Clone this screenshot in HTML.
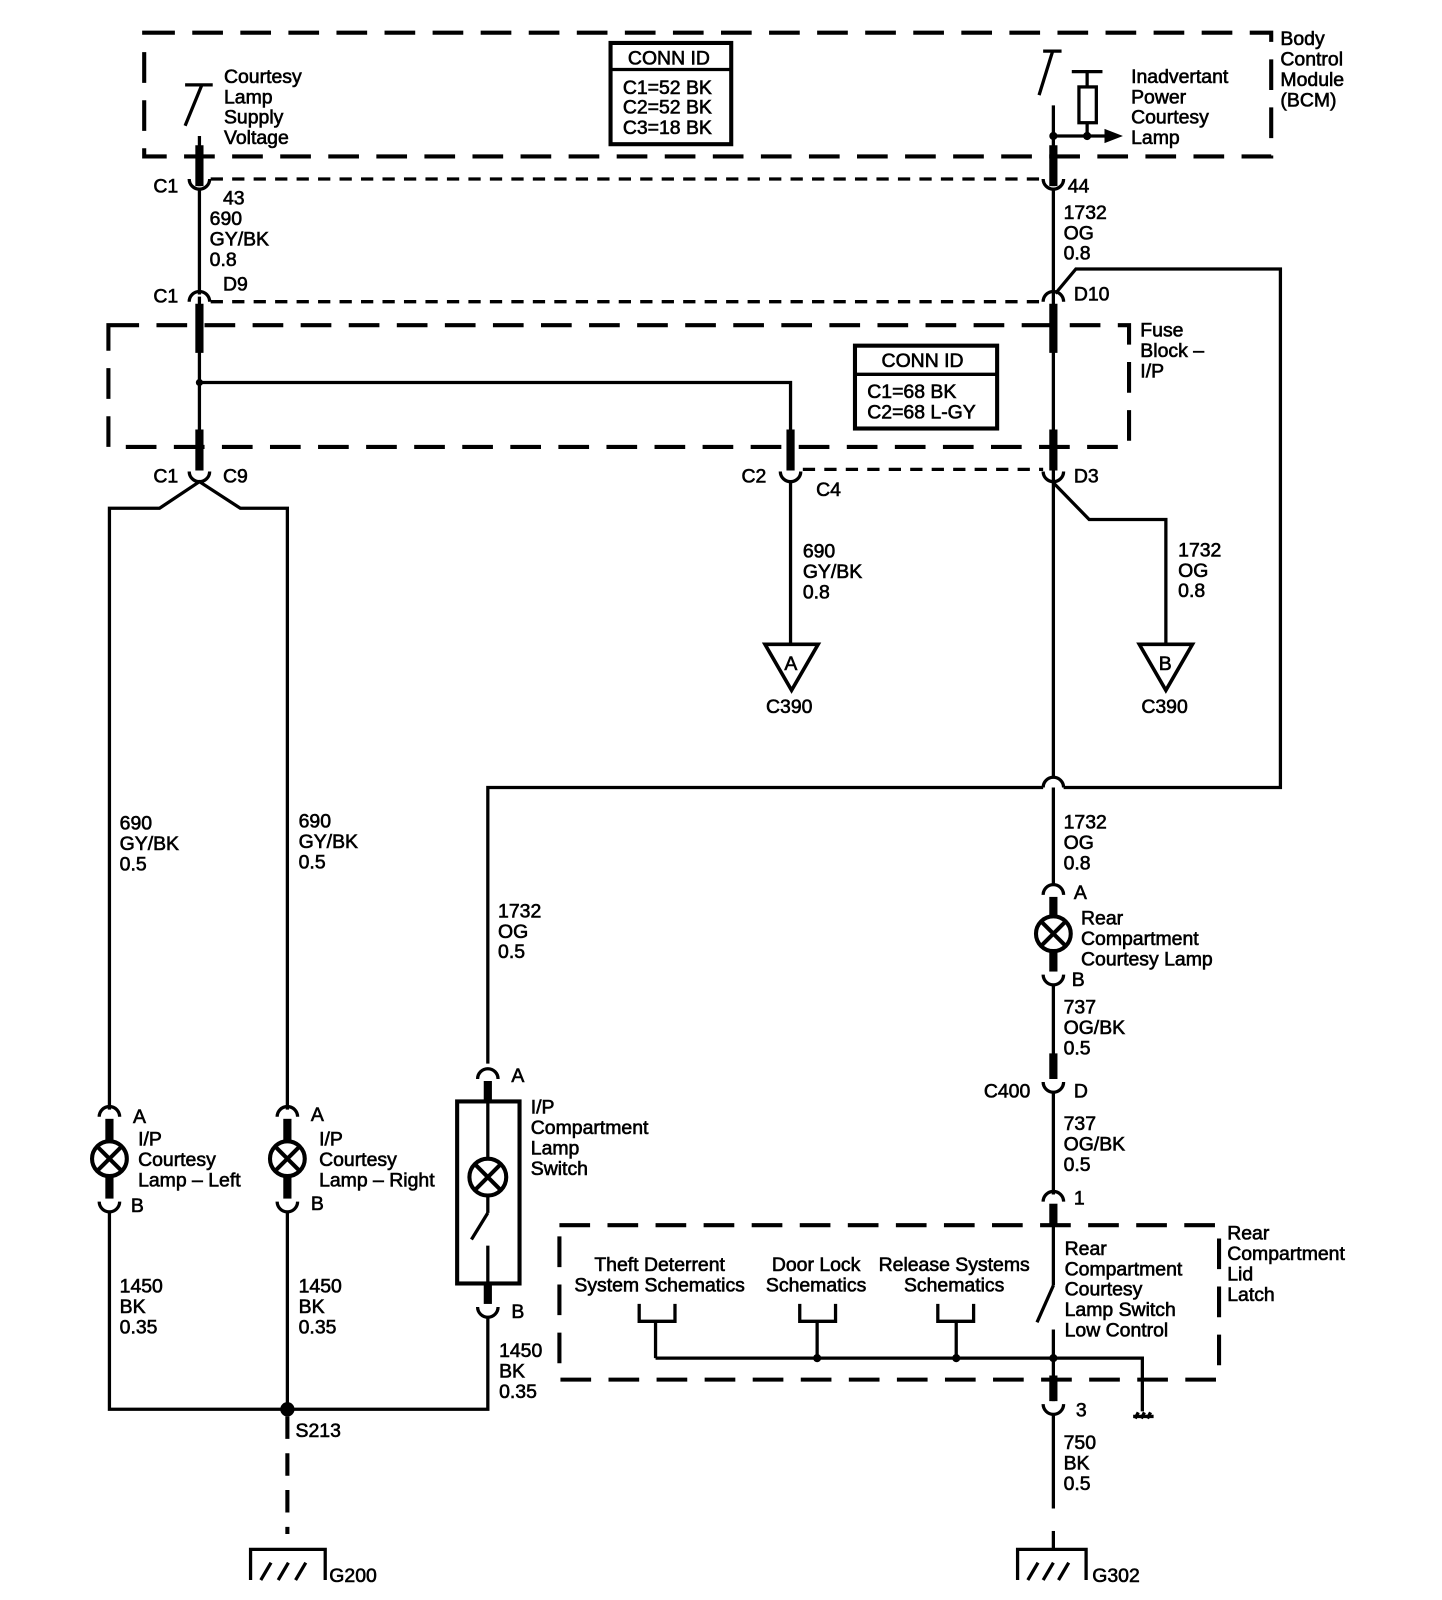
<!DOCTYPE html>
<html><head><meta charset="utf-8"><style>
html,body{margin:0;padding:0;background:#fff;}
svg{display:block;}
text{font-family:"Liberation Sans",Arial,sans-serif;font-size:19px;fill:#000;stroke:#000;stroke-width:0.6;}
</style></head><body>
<svg width="1442" height="1600" viewBox="0 0 1410 1564.5" preserveAspectRatio="none" xmlns="http://www.w3.org/2000/svg">
<g fill="none" stroke="#000" stroke-width="3.2">
<rect x="141" y="32" width="1102" height="121" stroke-width="4" stroke-dasharray="30,17"/>
<rect x="106" y="318" width="998" height="119" stroke-width="4" stroke-dasharray="30,17"/>
<rect x="547" y="1198" width="645" height="151" stroke-width="4" stroke-dasharray="30,17"/>
<line x1="206" y1="175" x2="1020" y2="175" stroke-dasharray="12,9"/>
<line x1="206" y1="295" x2="1020" y2="295" stroke-dasharray="12,9"/>
<line x1="785" y1="459" x2="1020" y2="459" stroke-dasharray="12,9"/>
<line x1="181" y1="83" x2="208" y2="83"/>
<line x1="197" y1="84" x2="181" y2="123"/>
<line x1="195" y1="133" x2="195" y2="182"/>
<line x1="195" y1="142" x2="195" y2="182" stroke-width="8"/>
<path d="M185 175 A10 10 0 0 0 205 175"/>
<line x1="195" y1="185" x2="195" y2="288"/>
<path d="M185 295 A10 10 0 0 1 205 295"/>
<line x1="195" y1="290" x2="195" y2="460"/>
<line x1="195" y1="297" x2="195" y2="345" stroke-width="8"/>
<line x1="195" y1="420" x2="195" y2="460" stroke-width="8"/>
<path d="M185 461 A10 10 0 0 0 205 461"/>
<polyline points="107,1085 107,497 156,497 195,471 235,497 281,497 281,1085"/>
<polyline points="195,374 773,374 773,460"/>
<line x1="773" y1="420" x2="773" y2="460" stroke-width="8"/>
<path d="M763 461 A10 10 0 0 0 783 461"/>
<line x1="773" y1="471" x2="773" y2="630"/>
<polygon points="748,630 800,630 774,675" stroke-width="3.5"/>
<line x1="1020" y1="50" x2="1038" y2="50"/>
<line x1="1029" y1="51" x2="1016" y2="93"/>
<line x1="1048" y1="70" x2="1078" y2="70"/>
<line x1="1063" y1="70" x2="1063" y2="85"/>
<rect x="1055" y="85" width="17" height="35"/>
<line x1="1063" y1="120" x2="1063" y2="133"/>
<line x1="1030" y1="133" x2="1080" y2="133"/>
<line x1="1030" y1="103" x2="1030" y2="182"/>
<line x1="1030" y1="142" x2="1030" y2="182" stroke-width="8"/>
<path d="M1020 175 A10 10 0 0 0 1040 175"/>
<line x1="1030" y1="185" x2="1030" y2="760"/>
<path d="M1020 295 A10 10 0 0 1 1040 295"/>
<line x1="1030" y1="297" x2="1030" y2="345" stroke-width="8"/>
<line x1="1030" y1="420" x2="1030" y2="460" stroke-width="8"/>
<path d="M1020 461 A10 10 0 0 0 1040 461"/>
<polyline points="1030,472 1065,508 1140,508 1140,630"/>
<polygon points="1114,630 1166,630 1140,675" stroke-width="3.5"/>
<polyline points="1032,287 1052,263 1252,263 1252,770 1040,770"/>
<path d="M1040 770 A10 10 0 0 0 1020 770"/>
<polyline points="1020,770 477,770 477,1040"/>
<line x1="1030" y1="770" x2="1030" y2="865"/>
<path d="M1020 875 A10 10 0 0 1 1040 875"/>
<line x1="1030" y1="877" x2="1030" y2="897" stroke-width="8"/>
<circle cx="1030" cy="913" r="17" stroke-width="4"/>
<line x1="1018" y1="901" x2="1042" y2="925" stroke-width="4"/>
<line x1="1042" y1="901" x2="1018" y2="925" stroke-width="4"/>
<line x1="1030" y1="930" x2="1030" y2="950" stroke-width="8"/>
<path d="M1020 953 A10 10 0 0 0 1040 953"/>
<line x1="1030" y1="963" x2="1030" y2="1055"/>
<line x1="1030" y1="1030" x2="1030" y2="1055" stroke-width="8"/>
<path d="M1020 1058 A10 10 0 0 0 1040 1058"/>
<line x1="1030" y1="1068" x2="1030" y2="1168"/>
<path d="M1020 1175 A10 10 0 0 1 1040 1175"/>
<line x1="1030" y1="1177" x2="1030" y2="1198" stroke-width="8"/>
<line x1="1030" y1="1198" x2="1030" y2="1257"/>
<line x1="1030" y1="1257" x2="1014" y2="1293"/>
<line x1="1030" y1="1300" x2="1030" y2="1370"/>
<line x1="1030" y1="1345" x2="1030" y2="1370" stroke-width="8"/>
<path d="M1020 1373 A10 10 0 0 0 1040 1373"/>
<line x1="1030" y1="1383" x2="1030" y2="1475"/>
<line x1="1030" y1="1497" x2="1030" y2="1515"/>
<polyline points="995,1545 995,1515 1062,1515 1062,1545"/>
<line x1="1005" y1="1545" x2="1015" y2="1528"/>
<line x1="1020" y1="1545" x2="1030" y2="1528"/>
<line x1="1035" y1="1545" x2="1045" y2="1528"/>
<polyline points="641,1328 1117,1328 1117,1380"/>
<line x1="1108" y1="1385" x2="1128" y2="1385"/>
<line x1="1110" y1="1387" x2="1113" y2="1381"/><line x1="1116" y1="1387" x2="1119" y2="1381"/><line x1="1122" y1="1387" x2="1125" y2="1381"/>
<polyline points="625,1275 625,1292 660,1292 660,1275"/>
<line x1="641" y1="1292" x2="641" y2="1328"/>
<polyline points="782,1275 782,1292 817,1292 817,1275"/>
<line x1="799" y1="1292" x2="799" y2="1328"/>
<polyline points="917,1275 917,1292 952,1292 952,1275"/>
<line x1="935" y1="1292" x2="935" y2="1328"/>
<path d="M467 1055 A10 10 0 0 1 487 1055"/>
<line x1="477" y1="1057" x2="477" y2="1078" stroke-width="8"/>
<rect x="447" y="1077" width="61" height="178" stroke-width="4"/>
<line x1="477" y1="1078" x2="477" y2="1133"/>
<circle cx="477" cy="1151" r="18" stroke-width="4"/>
<line x1="465" y1="1139" x2="489" y2="1163" stroke-width="4"/>
<line x1="489" y1="1139" x2="465" y2="1163" stroke-width="4"/>
<line x1="477" y1="1169" x2="477" y2="1186"/>
<line x1="477" y1="1186" x2="461" y2="1212"/>
<line x1="477" y1="1218" x2="477" y2="1255"/>
<line x1="477" y1="1255" x2="477" y2="1275" stroke-width="8"/>
<path d="M467 1278 A10 10 0 0 0 487 1278"/>
<polyline points="477,1288 477,1378 107,1378 107,1185"/>
<path d="M97 1092 A10 10 0 0 1 117 1092"/>
<line x1="107" y1="1094" x2="107" y2="1116" stroke-width="8"/>
<circle cx="107" cy="1133" r="17" stroke-width="4"/>
<line x1="95" y1="1121" x2="119" y2="1145" stroke-width="4"/>
<line x1="119" y1="1121" x2="95" y2="1145" stroke-width="4"/>
<line x1="107" y1="1150" x2="107" y2="1172" stroke-width="8"/>
<path d="M97 1175 A10 10 0 0 0 117 1175"/>
<path d="M271 1092 A10 10 0 0 1 291 1092"/>
<line x1="281" y1="1094" x2="281" y2="1116" stroke-width="8"/>
<circle cx="281" cy="1133" r="17" stroke-width="4"/>
<line x1="269" y1="1121" x2="293" y2="1145" stroke-width="4"/>
<line x1="293" y1="1121" x2="269" y2="1145" stroke-width="4"/>
<line x1="281" y1="1150" x2="281" y2="1172" stroke-width="8"/>
<path d="M271 1175 A10 10 0 0 0 291 1175"/>
<line x1="281" y1="1185" x2="281" y2="1378"/>
<line x1="281" y1="1385" x2="281" y2="1500" stroke-width="4" stroke-dasharray="22,14"/>
<polyline points="245,1545 245,1515 318,1515 318,1545"/>
<line x1="255" y1="1545" x2="265" y2="1528"/>
<line x1="272" y1="1545" x2="282" y2="1528"/>
<line x1="289" y1="1545" x2="299" y2="1528"/>
<rect x="597" y="42" width="118" height="99" stroke-width="4"/>
<line x1="597" y1="68" x2="715" y2="68"/>
<rect x="836" y="338" width="139" height="81" stroke-width="4"/>
<line x1="836" y1="366" x2="975" y2="366"/>
</g>
<g fill="#000">
<circle cx="195" cy="374" r="3.5"/>
<circle cx="1030" cy="133" r="4"/><circle cx="1063" cy="133" r="4"/>
<polygon points="1080,126 1098,133 1080,140"/>
<circle cx="799" cy="1328" r="4"/><circle cx="935" cy="1328" r="4"/><circle cx="1030" cy="1328" r="4"/>
<circle cx="281" cy="1378" r="7"/>
</g>
<g>
<text x="219" y="81">Courtesy</text><text x="219" y="101">Lamp</text><text x="219" y="121">Supply</text><text x="219" y="141">Voltage</text>
<text x="614" y="63">CONN ID</text>
<text x="609" y="92">C1=52 BK</text><text x="609" y="111">C2=52 BK</text><text x="609" y="131">C3=18 BK</text>
<text x="1106" y="81">Inadvertant</text><text x="1106" y="101">Power</text><text x="1106" y="121">Courtesy</text><text x="1106" y="141">Lamp</text>
<text x="1252" y="44">Body</text><text x="1252" y="64">Control</text><text x="1252" y="84">Module</text><text x="1252" y="104">(BCM)</text>
<text x="150" y="188">C1</text><text x="218" y="200">43</text>
<text x="205" y="220">690</text><text x="205" y="240">GY/BK</text><text x="205" y="260">0.8</text>
<text x="218" y="284">D9</text><text x="150" y="296">C1</text>
<text x="1044" y="188">44</text>
<text x="1040" y="214">1732</text><text x="1040" y="234">OG</text><text x="1040" y="254">0.8</text>
<text x="1050" y="294">D10</text>
<text x="1115" y="329">Fuse</text><text x="1115" y="349">Block –</text><text x="1115" y="369">I/P</text>
<text x="862" y="359">CONN ID</text>
<text x="848" y="389">C1=68 BK</text><text x="848" y="409">C2=68 L-GY</text>
<text x="150" y="472">C1</text><text x="218" y="472">C9</text>
<text x="725" y="472">C2</text><text x="798" y="485">C4</text><text x="1050" y="472">D3</text>
<text x="785" y="545">690</text><text x="785" y="565">GY/BK</text><text x="785" y="585">0.8</text>
<text x="1152" y="544">1732</text><text x="1152" y="564">OG</text><text x="1152" y="584">0.8</text>
<text x="767" y="655">A</text><text x="1133" y="655">B</text>
<text x="749" y="697">C390</text><text x="1116" y="697">C390</text>
<text x="1040" y="810">1732</text><text x="1040" y="830">OG</text><text x="1040" y="850">0.8</text>
<text x="117" y="811">690</text><text x="117" y="831">GY/BK</text><text x="117" y="851">0.5</text>
<text x="292" y="809">690</text><text x="292" y="829">GY/BK</text><text x="292" y="849">0.5</text>
<text x="487" y="897">1732</text><text x="487" y="917">OG</text><text x="487" y="937">0.5</text>
<text x="1050" y="879">A</text>
<text x="1057" y="904">Rear</text><text x="1057" y="924">Compartment</text><text x="1057" y="944">Courtesy Lamp</text>
<text x="1048" y="964">B</text>
<text x="1040" y="991">737</text><text x="1040" y="1011">OG/BK</text><text x="1040" y="1031">0.5</text>
<text x="962" y="1073">C400</text><text x="1050" y="1073">D</text>
<text x="1040" y="1105">737</text><text x="1040" y="1125">OG/BK</text><text x="1040" y="1145">0.5</text>
<text x="1050" y="1178">1</text>
<text x="500" y="1058">A</text>
<text x="519" y="1089">I/P</text><text x="519" y="1109">Compartment</text><text x="519" y="1129">Lamp</text><text x="519" y="1149">Switch</text>
<text x="130" y="1098">A</text>
<text x="135" y="1120">I/P</text><text x="135" y="1140">Courtesy</text><text x="135" y="1160">Lamp – Left</text>
<text x="128" y="1185">B</text>
<text x="304" y="1096">A</text>
<text x="312" y="1120">I/P</text><text x="312" y="1140">Courtesy</text><text x="312" y="1160">Lamp – Right</text>
<text x="304" y="1183">B</text>
<text x="500" y="1289">B</text>
<text x="117" y="1264">1450</text><text x="117" y="1284">BK</text><text x="117" y="1304">0.35</text>
<text x="292" y="1264">1450</text><text x="292" y="1284">BK</text><text x="292" y="1304">0.35</text>
<text x="488" y="1327">1450</text><text x="488" y="1347">BK</text><text x="488" y="1367">0.35</text>
<text x="645" y="1243" text-anchor="middle">Theft Deterrent</text><text x="645" y="1263" text-anchor="middle">System Schematics</text>
<text x="798" y="1243" text-anchor="middle">Door Lock</text><text x="798" y="1263" text-anchor="middle">Schematics</text>
<text x="933" y="1243" text-anchor="middle">Release Systems</text><text x="933" y="1263" text-anchor="middle">Schematics</text>
<text x="1041" y="1227">Rear</text><text x="1041" y="1247">Compartment</text><text x="1041" y="1267">Courtesy</text><text x="1041" y="1287">Lamp Switch</text><text x="1041" y="1307">Low Control</text>
<text x="1200" y="1212">Rear</text><text x="1200" y="1232">Compartment</text><text x="1200" y="1252">Lid</text><text x="1200" y="1272">Latch</text>
<text x="1052" y="1385">3</text>
<text x="1040" y="1417">750</text><text x="1040" y="1437">BK</text><text x="1040" y="1457">0.5</text>
<text x="289" y="1405">S213</text>
<text x="322" y="1547">G200</text><text x="1068" y="1547">G302</text>
</g>
</svg>
</body></html>
